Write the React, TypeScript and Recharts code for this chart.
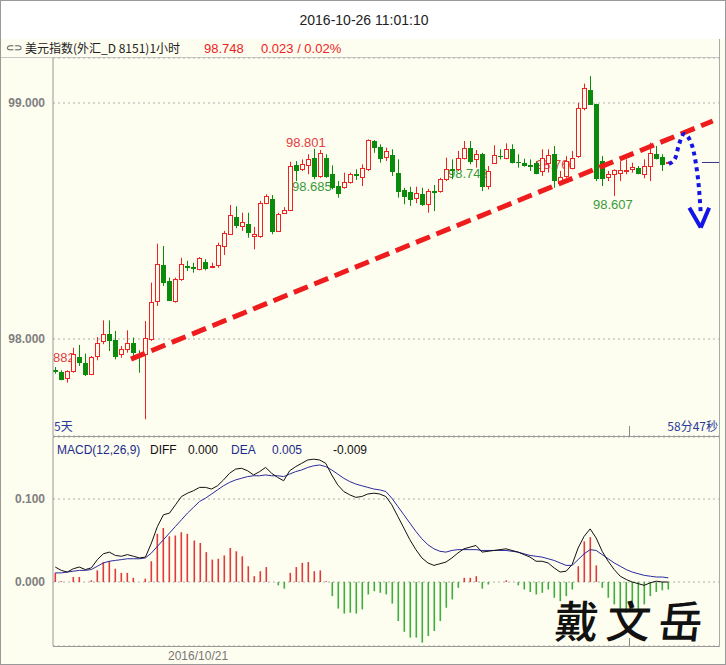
import React from "react";
import { ComposedChart, Bar, Line, XAxis, YAxis, CartesianGrid, ReferenceLine, Cell } from "recharts";

// hourly candles, USD index, oldest first
const open = [97.869, 97.861, 97.836, 97.864, 97.924, 97.898, 97.850, 97.928, 97.992, 98.020,
  97.994, 97.935, 97.956, 97.984, 97.937, 97.935, 97.999, 98.161, 98.314, 98.246,
  98.161, 98.253, 98.311, 98.307, 98.295, 98.328, 98.305, 98.314, 98.394, 98.446,
  98.517, 98.479, 98.489, 98.436, 98.436, 98.578, 98.592, 98.458, 98.535, 98.545,
  98.736, 98.719, 98.736, 98.768, 98.691, 98.768, 98.698, 98.648, 98.645, 98.665,
  98.698, 98.688, 98.719, 98.839, 98.815, 98.772, 98.778, 98.705, 98.631, 98.623,
  98.599, 98.613, 98.571, 98.629, 98.627, 98.677, 98.721, 98.719, 98.768, 98.811,
  98.761, 98.783, 98.648, 98.747, 98.777, 98.768, 98.806, 98.752, 98.747, 98.737,
  98.747, 98.712, 98.747, 98.783, 98.662, 98.691, 98.726, 98.775, 98.980, 99.054,
  98.994, 98.754, 98.686, 98.698, 98.705, 98.713, 98.719, 98.726, 98.698, 98.733,
  98.785, 98.771, 98.745];
const close = [97.864, 97.829, 97.864, 97.935, 97.904, 97.850, 97.924, 97.984, 98.020, 97.994,
  97.928, 97.956, 97.983, 97.946, 97.933, 98.003, 98.158, 98.317, 98.243, 98.164,
  98.256, 98.319, 98.307, 98.302, 98.342, 98.302, 98.311, 98.398, 98.450, 98.525,
  98.483, 98.497, 98.455, 98.446, 98.578, 98.605, 98.458, 98.528, 98.548, 98.733,
  98.716, 98.740, 98.761, 98.691, 98.787, 98.691, 98.645, 98.620, 98.665, 98.698,
  98.695, 98.726, 98.843, 98.815, 98.768, 98.795, 98.712, 98.627, 98.606, 98.594,
  98.620, 98.571, 98.627, 98.625, 98.677, 98.722, 98.718, 98.768, 98.811, 98.754,
  98.783, 98.648, 98.712, 98.778, 98.774, 98.804, 98.750, 98.749, 98.736, 98.734,
  98.705, 98.768, 98.778, 98.672, 98.686, 98.754, 98.766, 98.980, 99.065, 98.994,
  98.683, 98.681, 98.700, 98.715, 98.715, 98.716, 98.729, 98.705, 98.733, 98.789,
  98.768, 98.743, 98.748];
const high = [97.881, 97.867, 97.867, 97.963, 97.975, 97.938, 97.928, 98.008, 98.079, 98.079,
  98.034, 97.970, 98.037, 98.006, 97.952, 98.076, 98.239, 98.404, 98.394, 98.260,
  98.260, 98.344, 98.331, 98.323, 98.347, 98.338, 98.323, 98.408, 98.458, 98.568,
  98.562, 98.535, 98.535, 98.475, 98.585, 98.613, 98.610, 98.535, 98.559, 98.751,
  98.754, 98.761, 98.783, 98.806, 98.801, 98.783, 98.736, 98.669, 98.705, 98.705,
  98.719, 98.740, 98.846, 98.843, 98.825, 98.811, 98.804, 98.761, 98.641, 98.645,
  98.645, 98.641, 98.636, 98.653, 98.683, 98.768, 98.761, 98.797, 98.839, 98.839,
  98.801, 98.789, 98.733, 98.821, 98.804, 98.829, 98.825, 98.783, 98.764, 98.761,
  98.754, 98.804, 98.804, 98.818, 98.712, 98.775, 98.797, 99.001, 99.082, 99.114,
  98.997, 98.775, 98.712, 98.719, 98.754, 98.761, 98.747, 98.733, 98.761, 98.832,
  98.818, 98.783, 98.752];
const low = [97.853, 97.825, 97.815, 97.857, 97.886, 97.843, 97.847, 97.910, 97.978, 97.949,
  97.914, 97.921, 97.942, 97.928, 97.857, 97.660, 97.992, 98.140, 98.225, 98.161,
  98.154, 98.246, 98.288, 98.281, 98.291, 98.291, 98.300, 98.302, 98.356, 98.444,
  98.469, 98.458, 98.429, 98.380, 98.429, 98.571, 98.444, 98.455, 98.531, 98.542,
  98.669, 98.712, 98.698, 98.677, 98.683, 98.683, 98.634, 98.599, 98.637, 98.658,
  98.674, 98.648, 98.712, 98.789, 98.747, 98.754, 98.691, 98.599, 98.571, 98.564,
  98.575, 98.564, 98.535, 98.542, 98.620, 98.669, 98.677, 98.712, 98.761, 98.740,
  98.726, 98.627, 98.634, 98.744, 98.761, 98.761, 98.744, 98.726, 98.730, 98.712,
  98.698, 98.691, 98.705, 98.641, 98.655, 98.683, 98.719, 98.768, 98.969, 98.994,
  98.669, 98.648, 98.669, 98.606, 98.669, 98.698, 98.705, 98.698, 98.681, 98.669,
  98.761, 98.712, 98.742];

// MACD(12,26,9)
const hist = [0.011, 0.001, 0, 0.006, 0.006, 0, 0.002, 0.014, 0.024, 0.025,
  0.016, 0.011, 0.011, 0.005, 0, 0.004, 0.025, 0.058, 0.065, 0.055,
  0.056, 0.060, 0.058, 0.050, 0.047, 0.036, 0.027, 0.028, 0.032, 0.041,
  0.037, 0.031, 0.019, 0.007, 0.013, 0.018, 0, -0.004, -0.008, 0.011,
  0.018, 0.023, 0.024, 0.013, 0.014, 0.001, -0.017, -0.032, -0.038, -0.037,
  -0.038, -0.033, -0.015, -0.011, -0.013, -0.015, -0.026, -0.047, -0.060, -0.067,
  -0.067, -0.073, -0.065, -0.059, -0.047, -0.031, -0.021, -0.007, 0.005, 0.005,
  0.007, -0.008, -0.003, 0, 0, 0.002, 0, -0.004, -0.009, -0.012,
  -0.015, -0.013, -0.009, -0.019, -0.023, -0.017, -0.009, 0.019, 0.049, 0.054,
  0.020, -0.007, -0.019, -0.027, -0.033, -0.037, -0.035, -0.033, -0.027, -0.017,
  -0.012, -0.010, -0.009];
const diff = [0.018, 0.014, 0.012, 0.016, 0.018, 0.015, 0.017, 0.027, 0.034, 0.036,
  0.032, 0.031, 0.033, 0.031, 0.029, 0.030, 0.047, 0.067, 0.081, 0.083,
  0.093, 0.103, 0.107, 0.110, 0.114, 0.114, 0.112, 0.116, 0.123, 0.131,
  0.136, 0.137, 0.134, 0.129, 0.133, 0.138, 0.131, 0.126, 0.122, 0.134,
  0.139, 0.143, 0.147, 0.148, 0.147, 0.143, 0.129, 0.117, 0.109, 0.105,
  0.102, 0.103, 0.106, 0.107, 0.106, 0.103, 0.093, 0.079, 0.065, 0.051,
  0.039, 0.029, 0.023, 0.020, 0.022, 0.024, 0.029, 0.035, 0.040, 0.042,
  0.044, 0.036, 0.037, 0.038, 0.039, 0.040, 0.038, 0.036, 0.033, 0.030,
  0.025, 0.025, 0.023, 0.017, 0.012, 0.013, 0.021, 0.041, 0.055, 0.064,
  0.053, 0.037, 0.025, 0.015, 0.007, 0.003, 0.000, -0.002, -0.004, -0.001,
  0.001, 0.000, 0.000];
const dea = [0.011, 0.011, 0.012, 0.013, 0.014, 0.014, 0.015, 0.019, 0.023, 0.025,
  0.026, 0.027, 0.028, 0.028, 0.028, 0.029, 0.035, 0.043, 0.051, 0.059,
  0.067, 0.075, 0.083, 0.090, 0.097, 0.101, 0.106, 0.111, 0.116, 0.120,
  0.123, 0.125, 0.127, 0.128, 0.128, 0.129, 0.128, 0.128, 0.127, 0.130,
  0.133, 0.135, 0.138, 0.140, 0.141, 0.139, 0.135, 0.130, 0.125, 0.121,
  0.118, 0.116, 0.114, 0.112, 0.111, 0.109, 0.101, 0.091, 0.081, 0.071,
  0.061, 0.052, 0.045, 0.040, 0.037, 0.036, 0.038, 0.039, 0.039, 0.039,
  0.039, 0.038, 0.038, 0.038, 0.038, 0.038, 0.037, 0.036, 0.034, 0.032,
  0.031, 0.030, 0.028, 0.026, 0.023, 0.020, 0.020, 0.027, 0.034, 0.039,
  0.038, 0.033, 0.028, 0.023, 0.019, 0.015, 0.012, 0.010, 0.008, 0.007,
  0.006, 0.006, 0.005];

const priceTicks = [98, 99];
const macdTicks = [0, 0.1];

// hand-drawn annotations (candle index, price)
const trendLine = [{ x: 12.6, y: 97.915 }, { x: 109.4, y: 98.924 }];
const arrowPath = [
  { i: 102.1, p: 98.742 }, { i: 103.1, p: 98.763 }, { i: 103.8, p: 98.826 }, { i: 104.6, p: 98.869 },
  { i: 105.8, p: 98.831 }, { i: 106.6, p: 98.742 }, { i: 107.1, p: 98.64 }, { i: 107.4, p: 98.534 },
];
const arrowHead = [{ x: 105.5, y: 98.556 }, { x: 107.4, y: 98.472 }, { x: 108.8, y: 98.556 }];
const lastPrice = 98.748;

const RED = "#ee2222";
const GREEN = "#0b8b0b";
const CREAM = "#fdfdf0";
const FONT = "'Liberation Sans', Arial, sans-serif";
const CJK = "'Noto Sans CJK SC', sans-serif";

const candles = open.map((o, i) => ({ i, o, c: close[i], h: high[i], l: low[i], range: [low[i], high[i]] }));
const macd = hist.map((v, i) => ({ i, hist: v, diff: diff[i], dea: dea[i] }));

const Candle = (props: any) => {
  const { x, y, width, height, payload } = props;
  const { o, c, h, l } = payload;
  const top = Math.min(y, y + height);
  const span = Math.abs(height);
  const toY = (v: number) => (h === l ? top : top + ((h - v) / (h - l)) * span);
  const up = c >= o;
  const color = up ? RED : GREEN;
  const cx = Math.round(x + width / 2) + 0.5;
  const bTop = Math.round(toY(Math.max(o, c))) + 0.5;
  const bBot = Math.round(toY(Math.min(o, c))) + 0.5;
  return (
    <g>
      <line x1={cx} x2={cx} y1={top} y2={top + span} stroke={color} strokeWidth={1} />
      {bBot - bTop < 1 ? (
        <line x1={cx - 2.5} x2={cx + 2.5} y1={bTop} y2={bTop} stroke={color} strokeWidth={1} />
      ) : (
        <rect x={cx - 2} y={bTop} width={4} height={bBot - bTop} fill={up ? CREAM : color} stroke={color} strokeWidth={1} />
      )}
    </g>
  );
};

const HistBar = (props: any) => {
  const { x, y, width, height, fill } = props;
  const cx = Math.round(x + width / 2);
  const top = Math.min(y, y + height);
  return <rect x={cx - 0.5} y={top} width={1.6} height={Math.abs(height)} fill={fill} />;
};

const txt = (left: number, top: number, text: string, color: string, size = 12, extra: any = {}) => (
  <div style={{ position: "absolute", left, top: top - size / 2 - 1, fontSize: size, lineHeight: `${size + 2}px`, color, fontFamily: FONT, whiteSpace: "nowrap", ...extra }}>
    {text}
  </div>
);

export default function App() {
  return (
    <div style={{ position: "absolute", left: 0, top: 0, width: 726, height: 665, background: "#fff", boxSizing: "border-box", border: "1px solid #999", overflow: "hidden" }}>
      <div style={{ position: "absolute", left: 0, top: 38, width: 726, height: 627, background: CREAM }} />
      {txt(0, 19, "2016-10-26 11:01:10", "#222", 14, { width: 726, textAlign: "center" })}

      {/* header strip */}
      {txt(5, 47, "⊂⊃", "#333", 10)}
      {txt(24, 47, "美元指数(外汇_D 8151)1小时", "#222", 12, { fontFamily: CJK })}
      {txt(203, 47, "98.748", RED, 13)}
      {txt(260, 47, "0.023 / 0.02%", RED, 13)}
      <div style={{ position: "absolute", left: 0, top: 56, width: 718, height: 1, background: "#c8c8c8" }} />

      {/* price labels, under the candles */}
      {txt(52, 356, "882", "#e04040", 13)}
      {txt(285, 141, "98.801", "#e04040", 13)}
      {txt(291, 185, "98.685", "#3a9a3a", 13)}
      {txt(447, 172, "98.743", "#3a9a3a", 13)}
      {txt(535, 163, "98.766", "#e04040", 13)}
      {txt(592, 203, "98.607", "#3a9a3a", 13)}

      <div style={{ position: "absolute", left: 0, top: 56 }}>
        <ComposedChart width={726} height={380} data={candles} margin={{ top: 1, right: 8, bottom: 1, left: 0 }}>
          <CartesianGrid vertical={false} stroke="#b0b0b0" strokeDasharray="2 3" />
          <XAxis dataKey="i" type="number" domain={[-0.38, 110.44]} allowDataOverflow hide />
          <YAxis
            width={52}
            domain={[97.589, 99.1907]}
            allowDataOverflow
            ticks={priceTicks}
            tickFormatter={(v: number) => v.toFixed(3)}
            axisLine={{ stroke: "#999" }}
            tickLine={false}
            tick={{ fill: "#808080", fontSize: 12, fontWeight: "bold", fontFamily: FONT }}
          />
          <Bar dataKey="range" barSize={6} shape={Candle} isAnimationActive={false} />
          <ReferenceLine segment={trendLine} stroke="#ee1c1c" strokeWidth={5} strokeDasharray="15 7" ifOverflow="visible" />
          <Line data={arrowPath} dataKey="p" type="monotone" stroke="#1414e6" strokeWidth={4} strokeDasharray="4 4" dot={false} isAnimationActive={false} />
          <ReferenceLine segment={[arrowHead[0], arrowHead[1]]} stroke="#1414e6" strokeWidth={4} ifOverflow="visible" />
          <ReferenceLine segment={[arrowHead[1], arrowHead[2]]} stroke="#1414e6" strokeWidth={4} ifOverflow="visible" />
          <ReferenceLine segment={[{ x: 107.6, y: lastPrice }, { x: 110.44, y: lastPrice }]} stroke="#33338a" strokeWidth={1} ifOverflow="visible" />
        </ComposedChart>
      </div>

      {txt(53, 425, "5天", "#2a3a9a", 12, { fontFamily: CJK })}
      {txt(0, 425, "58分47秒", "#2a3a9a", 12, { fontFamily: CJK, width: 717, textAlign: "right" })}
      <div style={{ position: "absolute", left: 628, top: 425, width: 1, height: 11, background: "#888" }} />
      <div style={{ position: "absolute", left: 52, top: 435, width: 666, height: 1, background: "#999" }} />

      <div style={{ position: "absolute", left: 0, top: 436 }}>
        <ComposedChart width={726} height={210} data={macd} margin={{ top: 0, right: 8, bottom: 1, left: 0 }}>
          <CartesianGrid vertical={false} stroke="#b0b0b0" strokeDasharray="2 3" />
          <XAxis dataKey="i" type="number" domain={[-0.38, 110.44]} allowDataOverflow hide />
          <YAxis
            width={52}
            domain={[-0.0771, 0.1747]}
            allowDataOverflow
            ticks={macdTicks}
            tickFormatter={(v: number) => v.toFixed(3)}
            axisLine={{ stroke: "#999" }}
            tickLine={false}
            tick={{ fill: "#808080", fontSize: 12, fontWeight: "bold", fontFamily: FONT }}
          />
          <Bar dataKey="hist" barSize={2} shape={HistBar} isAnimationActive={false}>
            {macd.map((d) => (
              <Cell key={d.i} fill={d.hist >= 0 ? "#e23a3a" : "#3fae3f"} />
            ))}
          </Bar>
          <Line dataKey="dea" type="linear" stroke="#2a2aa0" strokeWidth={1} dot={false} isAnimationActive={false} />
          <Line dataKey="diff" type="linear" stroke="#111" strokeWidth={1} dot={false} isAnimationActive={false} />
        </ComposedChart>
      </div>

      {txt(56, 449, "MACD(12,26,9)", "#1c2c8c", 12)}
      {txt(149, 449, "DIFF", "#111", 12)}
      {txt(187, 449, "0.000", "#111", 12)}
      {txt(230, 449, "DEA", "#1c2c8c", 12)}
      {txt(271, 449, "0.005", "#1c2c8c", 12)}
      {txt(332, 449, "-0.009", "#111", 12)}

      <div style={{ position: "absolute", left: 52, top: 645, width: 666, height: 1, background: "#999" }} />
      <div style={{ position: "absolute", left: 628, top: 637, width: 1, height: 8, background: "#888" }} />
      <div style={{ position: "absolute", left: 718, top: 38, width: 1, height: 608, background: "#aaa" }} />
      {txt(167, 655, "2016/10/21", "#777", 12)}

      <div style={{ position: "absolute", left: 554, top: 592, fontSize: 44, lineHeight: "52px", letterSpacing: 8, fontFamily: CJK, fontWeight: 500, color: "#111", whiteSpace: "nowrap", transform: "skewX(-6deg)" }}>
        戴文岳
      </div>
    </div>
  );
}
